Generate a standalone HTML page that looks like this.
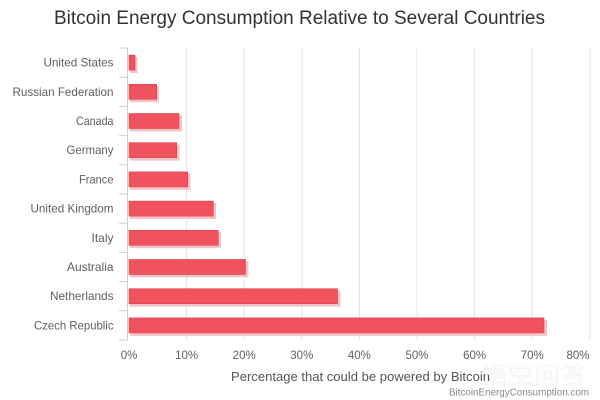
<!DOCTYPE html>
<html>
<head>
<meta charset="utf-8">
<style>
html,body{margin:0;padding:0;background:#fff;}
svg{display:block;}
text{font-family:"Liberation Sans","Noto Sans CJK SC",sans-serif;}
</style>
</head>
<body>
<svg width="600" height="400" viewBox="0 0 600 400" xmlns="http://www.w3.org/2000/svg">
<rect width="600" height="400" fill="#fff"/>
<!-- Title -->
<text x="54" y="24" font-size="19" fill="#333" textLength="491" lengthAdjust="spacingAndGlyphs">Bitcoin Energy Consumption Relative to Several Countries</text>

<!-- Gridlines -->
<g stroke="#e4e4e4" stroke-width="1">
<line x1="186.6" y1="48" x2="186.6" y2="340"/>
<line x1="244.2" y1="48" x2="244.2" y2="340"/>
<line x1="301.8" y1="48" x2="301.8" y2="340"/>
<line x1="359.4" y1="48" x2="359.4" y2="340"/>
<line x1="417" y1="48" x2="417" y2="340"/>
<line x1="474.6" y1="48" x2="474.6" y2="340"/>
<line x1="532.2" y1="48" x2="532.2" y2="340"/>
<line x1="589.8" y1="48" x2="589.8" y2="340"/>
</g>

<!-- Y axis -->
<g stroke="#cfcfcf" stroke-width="1">
<line x1="127.5" y1="48" x2="127.5" y2="340"/>
<line x1="119" y1="48" x2="127.5" y2="48"/>
<line x1="119" y1="77.2" x2="127.5" y2="77.2"/>
<line x1="119" y1="106.4" x2="127.5" y2="106.4"/>
<line x1="119" y1="135.6" x2="127.5" y2="135.6"/>
<line x1="119" y1="164.8" x2="127.5" y2="164.8"/>
<line x1="119" y1="194" x2="127.5" y2="194"/>
<line x1="119" y1="223.2" x2="127.5" y2="223.2"/>
<line x1="119" y1="252.4" x2="127.5" y2="252.4"/>
<line x1="119" y1="281.6" x2="127.5" y2="281.6"/>
<line x1="119" y1="310.8" x2="127.5" y2="310.8"/>
<line x1="119" y1="340" x2="127.5" y2="340"/>
</g>

<!-- Bar shadows -->
<g fill="#f3b9bd" opacity="0.85">
<rect x="130" y="57" width="7.5" height="16"/>
<rect x="130" y="86.2" width="29" height="16"/>
<rect x="130" y="115.4" width="52" height="16"/>
<rect x="130" y="144.6" width="49.5" height="16"/>
<rect x="130" y="173.8" width="60.5" height="16"/>
<rect x="130" y="203" width="86" height="16"/>
<rect x="130" y="232.2" width="91" height="16"/>
<rect x="130" y="261.4" width="118.5" height="16"/>
<rect x="130" y="290.6" width="210.5" height="16"/>
<rect x="130" y="319.8" width="417" height="16"/>
</g>
<!-- Bars -->
<g fill="#f0525e" stroke="#d9434f" stroke-width="0.6">
<rect x="129" y="55.1" width="6" height="15"/>
<rect x="129" y="84.3" width="27.7" height="15"/>
<rect x="129" y="113.5" width="50" height="15"/>
<rect x="129" y="142.7" width="47.7" height="15"/>
<rect x="129" y="171.9" width="58.7" height="15"/>
<rect x="129" y="201.1" width="84.3" height="15"/>
<rect x="129" y="230.3" width="89.3" height="15"/>
<rect x="129" y="259.5" width="116.5" height="15"/>
<rect x="129" y="288.7" width="208.5" height="15"/>
<rect x="129" y="317.9" width="415" height="15"/>
</g>

<!-- Category labels -->
<g font-size="12" fill="#5f5f5f" text-anchor="end">
<text x="113.5" y="66.6" textLength="70" lengthAdjust="spacingAndGlyphs">United States</text>
<text x="113.5" y="95.8" textLength="101" lengthAdjust="spacingAndGlyphs">Russian Federation</text>
<text x="113.5" y="125" textLength="37.5" lengthAdjust="spacingAndGlyphs">Canada</text>
<text x="113.5" y="154.2" textLength="47" lengthAdjust="spacingAndGlyphs">Germany</text>
<text x="113.5" y="183.4" textLength="34.5" lengthAdjust="spacingAndGlyphs">France</text>
<text x="113.5" y="212.6" textLength="83" lengthAdjust="spacingAndGlyphs">United Kingdom</text>
<text x="113.5" y="241.8" textLength="22" lengthAdjust="spacingAndGlyphs">Italy</text>
<text x="113.5" y="271" textLength="46.5" lengthAdjust="spacingAndGlyphs">Australia</text>
<text x="113.5" y="300.2" textLength="63.5" lengthAdjust="spacingAndGlyphs">Netherlands</text>
<text x="113.5" y="329.4" textLength="79.5" lengthAdjust="spacingAndGlyphs">Czech Republic</text>
</g>

<!-- X tick labels -->
<g font-size="11.5" fill="#606060" text-anchor="middle">
<text x="129" y="359">0%</text>
<text x="186.6" y="359">10%</text>
<text x="244.2" y="359">20%</text>
<text x="301.8" y="359">30%</text>
<text x="359.4" y="359">40%</text>
<text x="417" y="359">50%</text>
<text x="474.6" y="359">60%</text>
<text x="532.2" y="359">70%</text>
<text x="589.5" y="359" text-anchor="end">80%</text>
</g>

<!-- Axis title -->
<text x="231" y="381" font-size="12.5" fill="#555" textLength="259" lengthAdjust="spacingAndGlyphs">Percentage that could be powered by Bitcoin</text>

<!-- Watermark -->
<text x="481" y="383" font-size="22" fill="#fff" stroke="#ececec" stroke-width="0.5" opacity="0.9" textLength="106" lengthAdjust="spacingAndGlyphs">悟空问答</text>
<text x="449" y="395.5" font-size="10" fill="#8a8a8a" textLength="140" lengthAdjust="spacingAndGlyphs">BitcoinEnergyConsumption.com</text>
</svg>
</body>
</html>
